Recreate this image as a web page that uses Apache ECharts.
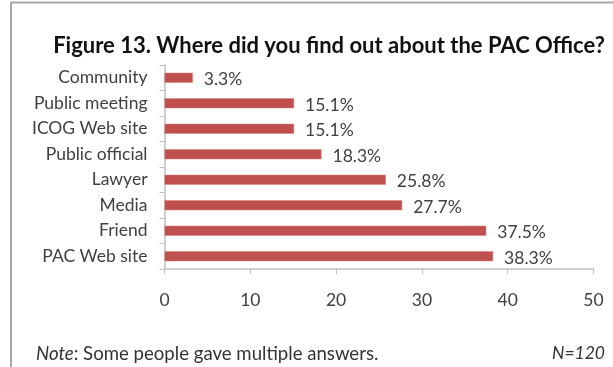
<!DOCTYPE html>
<html>
<head>
<meta charset="utf-8">
<script src="https://cdn.jsdelivr.net/npm/echarts@6/dist/echarts.min.js"></script>
<style>
  html, body { margin: 0; padding: 0; background: #fff; }
  #chart { width: 613px; height: 367px; }
</style>
</head>
<body>
<div id="chart"></div>
<script>
// Sources of awareness, listed top to bottom
const categories = ['Community', 'Public meeting', 'ICOG Web site', 'Public official', 'Lawyer', 'Media', 'Friend', 'PAC Web site'];
const percentages = [3.3, 15.1, 15.1, 18.3, 25.8, 27.7, 37.5, 38.3];
const xTicks = [0, 10, 20, 30, 40, 50];

const FONT = 'Lato, "Open Sans", sans-serif';
const chart = echarts.init(document.getElementById('chart'), null, { renderer: 'canvas' });

chart.setOption({
  animation: false,
  backgroundColor: '#ffffff',
  title: {
    text: 'Figure 13. Where did you find out about the PAC Office?',
    left: 324,
    textAlign: 'center',
    top: 30,
    textStyle: { fontFamily: FONT, fontSize: 22, fontWeight: 'bold', color: '#111' }
  },
  grid: { left: 164.5, right: 19.5, top: 65, bottom: 98, containLabel: false },
  xAxis: {
    type: 'value',
    min: xTicks[0],
    max: xTicks[xTicks.length - 1],
    interval: 10,
    axisLine: { show: true, lineStyle: { color: '#bfbfbf', width: 1.5 } },
    axisTick: { show: true, length: 5, lineStyle: { color: '#bfbfbf' } },
    splitLine: { show: false },
    axisLabel: { fontFamily: FONT, fontSize: 17.5, color: '#404040', margin: 22 }
  },
  yAxis: {
    type: 'category',
    data: categories,
    inverse: true,
    axisLine: { show: true, lineStyle: { color: '#bfbfbf', width: 1.5 } },
    axisTick: { show: true, length: 5, lineStyle: { color: '#bfbfbf' } },
    axisLabel: { fontFamily: FONT, fontSize: 17.5, color: '#404040', margin: 17 }
  },
  series: [{
    type: 'bar',
    data: percentages,
    barWidth: 10,
    itemStyle: { color: '#c0504d', borderColor: '#d9817f', borderWidth: 0.5 },
    label: {
      show: true,
      position: 'right',
      distance: 11,
      formatter: p => p.value.toFixed(1) + '%',
      fontFamily: FONT,
      fontSize: 17.5,
      color: '#404040',
      offset: [0, 2]
    }
  }],
  graphic: [
    // frame around the figure
    { type: 'line', shape: { x1: 11, y1: 2.5, x2: 613, y2: 2.5 }, style: { stroke: '#a6a6a6', lineWidth: 2 } },
    { type: 'line', shape: { x1: 11, y1: 2, x2: 11, y2: 367 }, style: { stroke: '#a6a6a6', lineWidth: 2 } },
    {
      type: 'text', left: 36, top: 344,
      style: {
        rich: {
          i: { fontFamily: FONT, fontSize: 18.6, fontStyle: 'italic', fill: '#333' },
          n: { fontFamily: FONT, fontSize: 18.6, fill: '#333' }
        },
        text: '{i|Note}{n|: Some people gave multiple answers.}'
      }
    },
    {
      type: 'text', right: 8, top: 344,
      style: { text: 'N=120', fontFamily: FONT, fontSize: 17.5, fontStyle: 'italic', fill: '#333' }
    }
  ]
});
</script>
</body>
</html>
